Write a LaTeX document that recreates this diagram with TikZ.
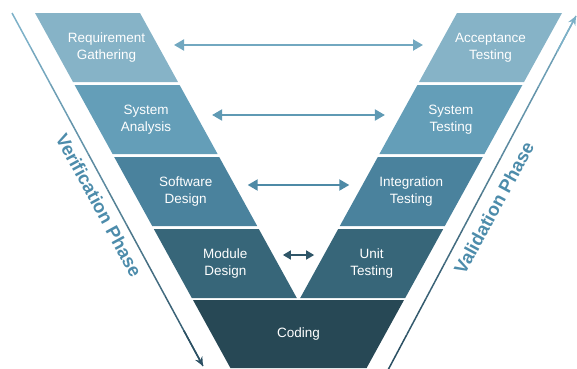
\documentclass[tikz,border=0pt]{standalone}
\usepackage{fontspec}
\setmainfont{Liberation Sans}
\usetikzlibrary{
  arrows.meta,
  backgrounds,
  calc,
  positioning
}
\definecolor{stage1}{HTML}{86B3C7}
\definecolor{stage2}{HTML}{649EB8}
\definecolor{stage3}{HTML}{4A829D}
\definecolor{stage4}{HTML}{376679}
\definecolor{stage5}{HTML}{274855}
\definecolor{link1}{HTML}{72A8C0}
\definecolor{link2}{HTML}{5F9AB4}
\definecolor{link3}{HTML}{4E8AA6}
\definecolor{link4}{HTML}{2F5668}
\definecolor{phase light}{HTML}{7DB1C8}
\definecolor{phase dark}{HTML}{2B5063}
\definecolor{phase text}{HTML}{4D8CAB}
\tikzset{
%
  % For the stages of the V (the slanted fill is drawn behind).
  band/.style={
    minimum width=105pt,
    minimum height=69pt,
    inner sep=0pt,
    outer sep=0pt,
    align=center,
    text=white,
    font=\fontsize{13.5}{17}\selectfont},
%
  % For the arrows between matching stages.
  link/.style={
    line width=2pt,
    shorten <=#1,
    shorten >=#1,
    {Triangle[length=10pt,
              width=11pt]}-{Triangle[length=10pt,
                                     width=11pt]}},
%
  % For the long lines along the sides.
  phase line/.style={
    line width=1.5pt},
%
  % For the names of the two sides.
  phase label/.style={
    text=phase text,
    font=\fontsize{18.5}{20}\selectfont\bfseries}
}

\begin{document}
\begin{tikzpicture}[x=1pt, y=-1pt]
  \useasboundingbox (0,0) rectangle (577,368);
  \clip (0,0) rectangle (577,368);

  \node[band] (RG) at (106.5,47.5) {Requirement\\Gathering};
  \node[band] (SA) [below=3pt of RG, xshift=39.6pt] {System\\Analysis};
  \node[band] (SD) [below=3pt of SA, xshift=39.6pt] {Software\\Design};
  \node[band] (MD) [below=3pt of SD, xshift=39.6pt] {Module\\Design};

  \node[band] (AT) at (490.5,47.5) {Acceptance\\Testing};
  \node[band] (ST) [below=3pt of AT, xshift=-39.6pt] {System\\Testing};
  \node[band] (IT) [below=3pt of ST, xshift=-39.6pt] {Integration\\Testing};
  \node[band] (UT) [below=3pt of IT, xshift=-39.6pt] {Unit\\Testing};

  \node[band, minimum width=211pt, minimum height=68pt] (C) at (298.5,334) {Coding};

  \begin{scope}[on background layer]
    \foreach \n/\c in {RG/stage1, SA/stage2, SD/stage3, MD/stage4}
      \fill[\c] (\n) ++(-71.5,-34.5) -- ++(105,0) -- ++(38,69) -- ++(-105,0) -- cycle;
    \foreach \n/\c in {AT/stage1, ST/stage2, IT/stage3, UT/stage4}
      \fill[\c] (\n) ++(-33.5,-34.5) -- ++(105,0) -- ++(-38,69) -- ++(-105,0) -- cycle;
    \fill[stage5] (C) ++(-105.5,-34) -- ++(211,0) -- ++(-37.4,68) -- ++(-136.2,0) -- cycle;
  \end{scope}

  \draw[link=15pt, link1] ([yshift=2.5pt]RG.east) -- ([yshift=2.5pt]AT.west);
  \draw[link=13.5pt, link2] ([yshift=4.5pt]SA.east) -- ([yshift=4.5pt]ST.west);
  \draw[link=9.5pt, link3] ([yshift=6.5pt]SD.east) -- ([yshift=6.5pt]IT.west);
  \draw[link=5pt, link4, arrows={[scale=0.8]}] ([yshift=8.5pt]MD.east) -- ([yshift=8.5pt]UT.west);

  % Side lines, light at the top and dark at the bottom.
  \coordinate (V top) at (12,13);
  \coordinate (V tip) at (203,366);
  \coordinate (W foot) at (388,370);
  \coordinate (W tip) at (576,16);
  \foreach \i in {0,...,9} {
    \draw[phase line, phase dark!\i0!phase light]
      ($(V top)!{\i/10}!(V tip)$) -- ($(V top)!{\i/10+0.1}!(V tip)$);
    \draw[phase line, phase light!\i0!phase dark]
      ($(W foot)!{\i/10}!(W tip)$) -- ($(W foot)!{\i/10+0.1}!(W tip)$);
  }
  \draw[phase line, phase dark, -{Stealth[length=9pt, width=8pt]}]
    ($(V top)!0.9!(V tip)$) -- (V tip);
  \draw[phase line, phase light, -{Stealth[length=9pt, width=8pt]}]
    ($(W foot)!0.9!(W tip)$) -- (W tip);

  \node[phase label, rotate=-61.5] (VP) at (99,205) {Verification Phase};
  \node[phase label, rotate=61.5] (WP) at (494,208) {Validation Phase};
\end{tikzpicture}
\end{document}
